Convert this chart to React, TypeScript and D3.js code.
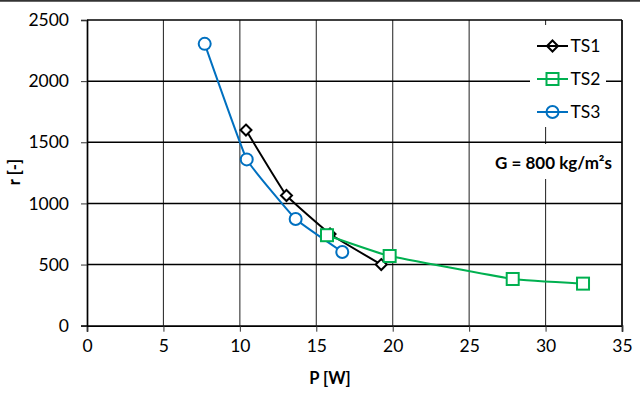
import { useEffect, useRef } from "react"
import * as d3 from "d3"

// values
const ts1P = [10.4, 13.05, 15.9, 19.25]
const ts1R = [1600, 1065, 750, 500]
const ts2P = [15.7, 19.8, 27.85, 32.45]
const ts2R = [740, 570, 382, 344]
const ts3P = [7.7, 10.45, 13.65, 16.7]
const ts3R = [2305, 1360, 872, 603]

const xTicks = [0, 5, 10, 15, 20, 25, 30, 35]
const yTicks = [0, 500, 1000, 1500, 2000, 2500]

const seriesNames = ["TS1", "TS2", "TS3"]
const seriesColors = ["#000000", "#00B050", "#0070C0"]
const seriesShapes = ["diamond", "square", "circle"]

const FONT = "Lato, 'Open Sans', sans-serif"

function drawMarker(g, shape, color, x, y, fill) {
  if (shape === "diamond") {
    g.append("path")
      .attr("d", `M${x},${y - 5.5}L${x + 5.5},${y}L${x},${y + 5.5}L${x - 5.5},${y}Z`)
      .attr("fill", fill)
      .attr("stroke", color)
      .attr("stroke-width", 2)
  } else if (shape === "square") {
    g.append("rect")
      .attr("x", x - 6)
      .attr("y", y - 6)
      .attr("width", 12)
      .attr("height", 12)
      .attr("fill", fill)
      .attr("stroke", color)
      .attr("stroke-width", 2)
  } else {
    g.append("circle")
      .attr("cx", x)
      .attr("cy", y)
      .attr("r", 6)
      .attr("fill", fill)
      .attr("stroke", color)
      .attr("stroke-width", 2)
  }
}

export default function App() {
  const svgRef = useRef(null)

  useEffect(() => {
    if (!svgRef.current) return
    const svg = d3.select(svgRef.current)
    svg.selectAll("*").remove()

    const width = 640
    const height = 402
    const left = 87
    const right = 622
    const top = 20
    const bottom = 325.7

    const x = d3.scaleLinear().domain([0, 35]).range([left, right])
    const y = d3.scaleLinear().domain([0, 2500]).range([bottom, top])

    svg.append("rect").attr("width", width).attr("height", height).attr("fill", "#fff")
    // top border line of the image
    svg.append("line").attr("x1", 0).attr("x2", width).attr("y1", 0.8).attr("y2", 0.8)
      .attr("stroke", "#333").attr("stroke-width", 2)

    // grid
    svg.append("g").selectAll("line")
      .data(xTicks.filter((d) => d > 0 && d < 35))
      .enter().append("line")
      .attr("x1", (d) => x(d)).attr("x2", (d) => x(d))
      .attr("y1", top).attr("y2", bottom)
      .attr("stroke", "#333").attr("stroke-width", 1.1)

    svg.append("g").selectAll("line")
      .data(yTicks.filter((d) => d > 0))
      .enter().append("line")
      .attr("x1", left).attr("x2", right)
      .attr("y1", (d) => y(d)).attr("y2", (d) => y(d))
      .attr("stroke", "#000").attr("stroke-width", 1.5)

    // right border
    svg.append("line").attr("x1", right).attr("x2", right).attr("y1", top).attr("y2", bottom)
      .attr("stroke", "#000").attr("stroke-width", 1.7)

    // legend and annotation backgrounds
    svg.append("rect").attr("x", 530).attr("y", 25).attr("width", 76).attr("height", 102).attr("fill", "#fff")
    svg.append("rect").attr("x", 492).attr("y", 144).attr("width", 124).attr("height", 35).attr("fill", "#fff")

    // axes
    const xAxis = svg.append("g")
      .attr("transform", `translate(0,${bottom})`)
      .call(d3.axisBottom(x).tickValues(xTicks).tickSize(6).tickPadding(8).tickFormat(d3.format("d")))
    const yAxis = svg.append("g")
      .attr("transform", `translate(${left},0)`)
      .call(d3.axisLeft(y).tickValues(yTicks).tickSize(6).tickPadding(12).tickFormat(d3.format("d")))
    for (const ax of [xAxis, yAxis]) {
      ax.select(".domain").attr("stroke", "#000").attr("stroke-width", 1.7)
      ax.selectAll(".tick line").attr("stroke", "#333")
      ax.selectAll("text").attr("font-family", FONT).attr("font-size", "17.5px").attr("fill", "#000")
    }
    xAxis.selectAll("text").attr("dy", "0.72em")

    // series
    const allP = [ts1P, ts2P, ts3P]
    const allR = [ts1R, ts2R, ts3R]
    const line = d3.line().curve(d3.curveCardinal.tension(0.72)).x((d) => x(d[0])).y((d) => y(d[1]))

    const plot = svg.append("g")
    allP.forEach((ps, i) => {
      const pts = ps.map((p, j) => [p, allR[i][j]])
      plot.append("path")
        .attr("d", line(pts))
        .attr("fill", "none")
        .attr("stroke", seriesColors[i])
        .attr("stroke-width", 2)
    })
    allP.forEach((ps, i) => {
      ps.forEach((p, j) => drawMarker(plot, seriesShapes[i], seriesColors[i], x(p), y(allR[i][j]), "#fff"))
    })

    // legend
    const lg = svg.append("g")
    seriesNames.forEach((name, i) => {
      const ly = 46 + i * 33
      lg.append("line").attr("x1", 537).attr("x2", 568).attr("y1", ly).attr("y2", ly)
        .attr("stroke", seriesColors[i]).attr("stroke-width", 2)
      drawMarker(lg, seriesShapes[i], seriesColors[i], 552.5, ly, "none")
      lg.append("text").attr("x", 570.5).attr("y", ly).attr("dy", "0.35em")
        .attr("font-family", FONT).attr("font-size", "17.5px").text(name)
    })

    // annotation
    svg.append("text").attr("x", 553.5).attr("y", 163).attr("dy", "0.35em")
      .attr("text-anchor", "middle").attr("font-family", FONT).attr("font-size", "17px")
      .attr("font-weight", "bold").text("G = 800 kg/m²s")

    // axis titles
    svg.append("text").attr("x", 330).attr("y", 378).attr("dy", "0.35em")
      .attr("text-anchor", "middle").attr("font-family", FONT).attr("font-size", "16.5px")
      .attr("font-weight", "bold").text("P [W]")
    svg.append("text").attr("transform", "translate(14,172) rotate(-90)").attr("dy", "0.35em")
      .attr("text-anchor", "middle").attr("font-family", FONT).attr("font-size", "16.5px")
      .attr("font-weight", "bold").text("r [-]")

    svg.attr("width", width).attr("height", height).attr("viewBox", [0, 0, width, height])
  }, [])

  return (
    <div style={{ position: "absolute", left: 0, top: 0 }}>
      <svg ref={svgRef} style={{ display: "block" }}></svg>
    </div>
  )
}
